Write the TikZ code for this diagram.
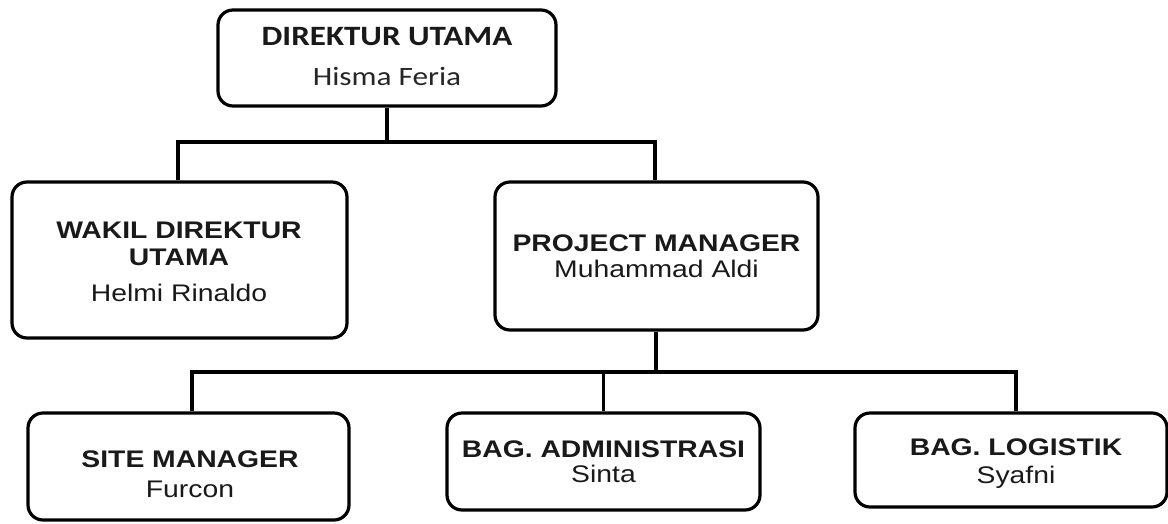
\documentclass[tikz,border=0pt]{standalone}
\usepackage{fontspec}
\setmainfont{Liberation Sans}[FakeStretch=1.18]
\newfontfamily\calfont{Carlito}[FakeStretch=1.18]
\begin{document}
\begin{tikzpicture}[x=1pt,y=-1pt,
  orgbox/.style={draw=black, line width=3.2pt, rounded corners=15pt, inner sep=0pt, fill=white},
  conn/.style={draw=black, line width=3.2pt},
  ttl/.style={anchor=base, inner sep=0pt, text=black!90, font=\fontsize{24}{28}\selectfont\bfseries},
  nm/.style={anchor=base, inner sep=0pt, text=black!90, font=\fontsize{24}{28}\selectfont},
  cttl/.style={anchor=base, inner sep=0pt, text=black!90, font=\calfont\fontsize{28}{32}\selectfont\bfseries},
  cnm/.style={anchor=base, inner sep=0pt, text=black!85, font=\calfont\fontsize{26.5}{30}\selectfont}]
\useasboundingbox (0,0) rectangle (1168,523);

% boxes
\node[orgbox, minimum width=338pt, minimum height=96pt]  (dir) at (387,58) {};
\node[orgbox, minimum width=335pt, minimum height=156pt] (wak) at (179.5,260) {};
\node[orgbox, minimum width=323pt, minimum height=148pt] (pm)  at (656.5,256) {};
\node[orgbox, minimum width=321pt, minimum height=107pt] (site) at (188.5,466.5) {};
\node[orgbox, minimum width=313pt, minimum height=97pt]  (adm) at (603.5,461.5) {};
\node[orgbox, minimum width=312pt, minimum height=94pt]  (log) at (1011,460) {};

% junction points
\coordinate (j1) at (387,142);
\coordinate (j2) at (656,372);

% connectors
\draw[conn] (dir.south) -- (j1);
\draw[conn] ([xshift=-1.5pt]wak.north) |- (j1) -| ([xshift=-1.5pt]pm.north);
\draw[conn] ([xshift=-0.5pt]pm.south) -- (j2);
\draw[conn] ([xshift=3.5pt]site.north) |- (j2) -| ([xshift=5pt]log.north);
\draw[conn] (adm.north) -- (adm.north |- j2);

% texts
\node[cttl] (dirt) at (387,45) {DIREKTUR UTAMA};
\node[cnm]  (dirn) at (387,85) {Hisma Feria};

\node[ttl] (wakt1) at (179,238) {WAKIL DIREKTUR};
\node[ttl] (wakt2) at (179,265) {UTAMA};
\node[nm]  (wakn)  at (179,301) {Helmi Rinaldo};

\node[ttl] (pmt) at (656.5,251) {PROJECT MANAGER};
\node[nm]  (pmn) at (656.5,277) {Muhammad Aldi};

\node[ttl] (sitet) at (190,467) {SITE MANAGER};
\node[nm]  (siten) at (190,497) {Furcon};

\node[ttl] (admt) at (603.5,457) {BAG. ADMINISTRASI};
\node[nm]  (admn) at (603.5,482) {Sinta};

\node[ttl] (logt) at (1016,455) {BAG. LOGISTIK};
\node[nm]  (logn) at (1016,483) {Syafni};
\end{tikzpicture}
\end{document}
